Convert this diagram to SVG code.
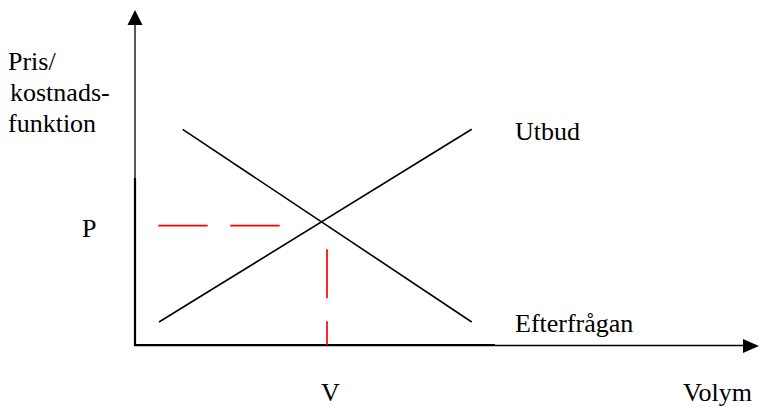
<svg xmlns="http://www.w3.org/2000/svg" width="759" height="407" viewBox="0 0 759 407">
<style>
text{font-family:"Liberation Serif","Times New Roman",serif;font-size:26px;fill:#000}
.ax{stroke:#000;fill:none}
.ln{stroke:#000;stroke-width:1.6;fill:none}
.red{stroke:#ff0000;stroke-width:1.7;fill:none}
.head{fill:#000}
</style>
<rect width="759" height="407" fill="#fff"/>
<g id="connectors">
<g id="y-axis">
<line class="ax" x1="135" y1="24" x2="135" y2="178" stroke-width="1.3"/>
<line class="ax" x1="135" y1="178" x2="135" y2="346" stroke-width="2.2"/>
<polygon class="head" points="135,10 127.5,25 142.5,25"/>
</g>
<g id="x-axis">
<line class="ax" x1="134" y1="345.2" x2="495" y2="345.2" stroke-width="2.2"/>
<line class="ax" x1="495" y1="345.5" x2="745" y2="345.5" stroke-width="1.3"/>
<polygon class="head" points="759,346 743,339 743,353"/>
</g>
<line id="utbud-line" class="ln" x1="159" y1="322" x2="471.7" y2="129.3"/>
<line id="efterfragan-line" class="ln" x1="182.7" y1="129.3" x2="471.7" y2="322"/>
<g id="p-dash">
<line class="red" x1="158.3" y1="225.7" x2="207.7" y2="225.7"/>
<line class="red" x1="230.3" y1="225.7" x2="279.7" y2="225.7"/>
</g>
<g id="v-dash">
<line class="red" x1="327" y1="249.3" x2="327" y2="298.3"/>
<line class="red" x1="327" y1="321.3" x2="327" y2="345"/>
</g>
</g>
<g id="label-pris">
<text x="8" y="70">Pris/</text>
<text x="10" y="101">kostnads-</text>
<text x="8" y="131.5">funktion</text>
</g>
<g id="label-p"><text x="82" y="237">P</text></g>
<g id="label-utbud"><text x="515" y="140">Utbud</text></g>
<g id="label-efterfragan"><text x="515" y="332">Efterfrågan</text></g>
<g id="label-v"><text x="321" y="401">V</text></g>
<g id="label-volym"><text x="683" y="401">Volym</text></g>
</svg>
